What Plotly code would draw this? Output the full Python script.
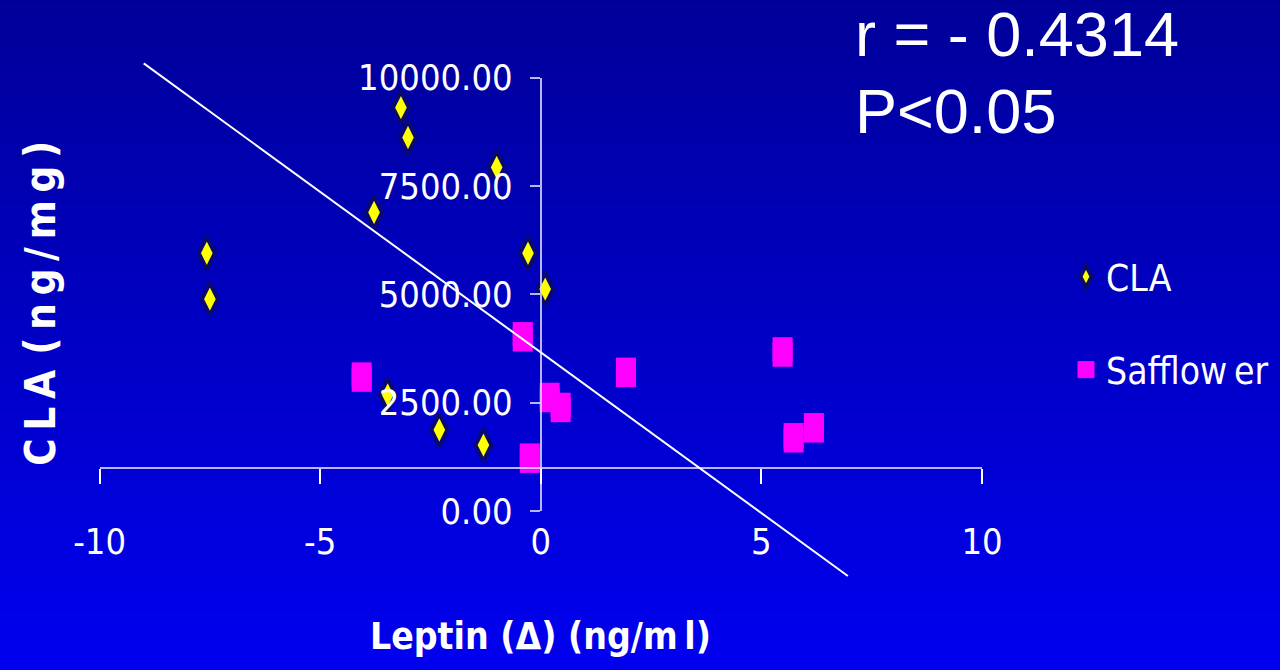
import base64
import struct
import zlib

import plotly.graph_objects as go

# ---- data -------------------------------------------------------------
cla_leptin = [-7.57, -7.50, -3.17, -3.01, -1.00, -3.78, -0.29, 0.10, -3.47, -2.30, -1.30]
cla_value = [5950, 4890, 9310, 8620, 7930, 6890, 5950, 5120, 2680, 1870, 1520]

saff_leptin = [-4.06, -0.41, 0.20, 0.45, -0.25, 1.93, 5.48, 5.73, 6.19]
saff_value = [3090, 4020, 2620, 2390, 1220, 3200, 3670, 1690, 1920]

trend_leptin = [-9.0, 6.96]
trend_value = [10330, -1500]

x_ticks = [-10, -5, 0, 5, 10]
x_tick_text = ["-10", "-5", "0", "5", "10"]
y_ticks = [0, 2500, 5000, 7500, 10000]

r_text = "r = - 0.4314"
p_text = "P&lt;0.05"
THIN = "\u2009"
y_title = THIN.join("CLA") + THIN * 2 + THIN.join("(ng/mg)")
x_title = "Leptin (&#916;) (ng/m" + THIN + "l)"
saff_name = "Safflow" + THIN + "er"

# ---- page geometry ----------------------------------------------------
W, H = 1280, 670
X_RANGE = [-10, 10]
Y_RANGE = [0, 10000]
X_DOM = [99.6 / W, 982 / W]
Y_DOM = [1 - 511 / H, 1 - 77.7 / H]
X_CROSS = 1000  # horizontal axis crosses the vertical one here

NARROW = "Liberation Sans Narrow, Arial Narrow, DejaVu Sans Condensed, sans-serif"
WIDE = "Liberation Sans, Arial, sans-serif"
AXIS_LINE = "rgba(215,215,255,0.85)"
TICK_SIZE = 36


def full_range(rng, dom):
    """Extend an axis range so that it spans the whole paper [0, 1]."""
    per = (rng[1] - rng[0]) / (dom[1] - dom[0])
    return [rng[0] - dom[0] * per, rng[1] + (1 - dom[1]) * per]


def gradient_png(height, top, bottom):
    rows = b""
    for i in range(height):
        t = i / (height - 1)
        px = bytes(int(round(a + (b - a) * t)) for a, b in zip(top, bottom))
        rows += b"\x00" + px

    def chunk(tag, data):
        c = struct.pack(">I", len(data)) + tag + data
        return c + struct.pack(">I", zlib.crc32(tag + data) & 0xFFFFFFFF)

    png = b"\x89PNG\r\n\x1a\n"
    png += chunk(b"IHDR", struct.pack(">IIBBBBB", 1, height, 8, 2, 0, 0, 0))
    png += chunk(b"IDAT", zlib.compress(rows))
    png += chunk(b"IEND", b"")
    return "data:image/png;base64," + base64.b64encode(png).decode()


fig = go.Figure()

fig.add_trace(go.Scatter(
    x=cla_leptin, y=cla_value, mode="markers", name="CLA",
    legendgroup="a", xaxis="x", yaxis="y",
    marker=dict(symbol="diamond-tall", size=23, color="#FFFF00",
                line=dict(color="#0A0A6E", width=4)),
))
fig.add_trace(go.Scatter(
    x=saff_leptin, y=saff_value, mode="markers", name=saff_name,
    legendgroup="b", xaxis="x2", yaxis="y",
    marker=dict(symbol="square", size=19, color="#FF00FF",
                line=dict(color="#FF00FF", width=1)),
    error_y=dict(type="constant", value=340, thickness=20, width=0, color="#FF00FF"),
))
fig.add_trace(go.Scatter(
    x=trend_leptin, y=trend_value, mode="lines", showlegend=False,
    xaxis="x3", yaxis="y3", line=dict(color="white", width=2),
    hoverinfo="skip",
))

fig.update_layout(
    width=W, height=H,
    margin=dict(l=0, r=0, t=0, b=0, autoexpand=False),
    paper_bgcolor="#0000C0",
    plot_bgcolor="rgba(0,0,0,0)",
    images=[dict(source=gradient_png(H, (0, 0, 153), (0, 0, 240)),
                 xref="paper", yref="paper", x=0, y=1, sizex=1, sizey=1,
                 xanchor="left", yanchor="top", sizing="stretch", layer="below")],
    xaxis=dict(range=X_RANGE, domain=X_DOM, anchor="y", showline=False,
               showgrid=False, zeroline=False, ticks="",
               tickvals=x_ticks, ticktext=x_tick_text,
               tickfont=dict(family=NARROW, size=TICK_SIZE, color="white"),
               ticklabelstandoff=6),
    xaxis2=dict(matches="x", overlaying="x", anchor="free",
                position=Y_DOM[0] + (X_CROSS - Y_RANGE[0]) / (Y_RANGE[1] - Y_RANGE[0]) * (Y_DOM[1] - Y_DOM[0]),
                showline=True, linecolor=AXIS_LINE, linewidth=2,
                ticks="outside", ticklen=15, tickwidth=1.5, tickcolor="white",
                tickvals=x_ticks, showticklabels=False,
                showgrid=False, zeroline=False),
    yaxis=dict(range=Y_RANGE, domain=Y_DOM, anchor="free",
               position=(X_DOM[0] + X_DOM[1]) / 2, side="left",
               showline=True, linecolor=AXIS_LINE, linewidth=2,
               ticks="outside", ticklen=10, tickwidth=1.5, tickcolor=AXIS_LINE,
               tickvals=y_ticks, tickformat=".2f",
               tickfont=dict(family=NARROW, size=TICK_SIZE, color="white"),
               showgrid=False, zeroline=False, ticklabelstandoff=10),
    xaxis3=dict(range=full_range(X_RANGE, X_DOM), domain=[0, 1], anchor="y3",
                visible=False, fixedrange=True),
    yaxis3=dict(range=full_range(Y_RANGE, Y_DOM), domain=[0, 1], anchor="x3",
                visible=False, fixedrange=True),
    legend=dict(x=1066 / W, y=1 - 246 / H, xanchor="left", yanchor="top",
                bgcolor="rgba(0,0,0,0)", traceorder="grouped",
                tracegroupgap=42,
                font=dict(family=NARROW, size=37, color="white")),
    annotations=[
        dict(text=x_title, x=540 / W, y=1 - 636 / H,
             xanchor="center", yanchor="middle",
             xref="paper", yref="paper", showarrow=False,
             font=dict(family=NARROW, size=37, color="white", weight="bold")),
        dict(text=y_title, x=40 / W, y=1 - 304 / H,
             xanchor="center", yanchor="middle",
             xref="paper", yref="paper", showarrow=False, textangle=-90,
             font=dict(family=NARROW, size=42, color="white", weight="bold")),
        dict(text=r_text, x=853 / W, y=1 - 34 / H, xanchor="left", yanchor="middle",
             xref="paper", yref="paper", showarrow=False,
             font=dict(family=WIDE, size=63, color="white")),
        dict(text=p_text, x=853 / W, y=1 - 111 / H, xanchor="left", yanchor="middle",
             xref="paper", yref="paper", showarrow=False,
             font=dict(family=WIDE, size=63, color="white")),
    ],
)

fig.write_html("out.html")
